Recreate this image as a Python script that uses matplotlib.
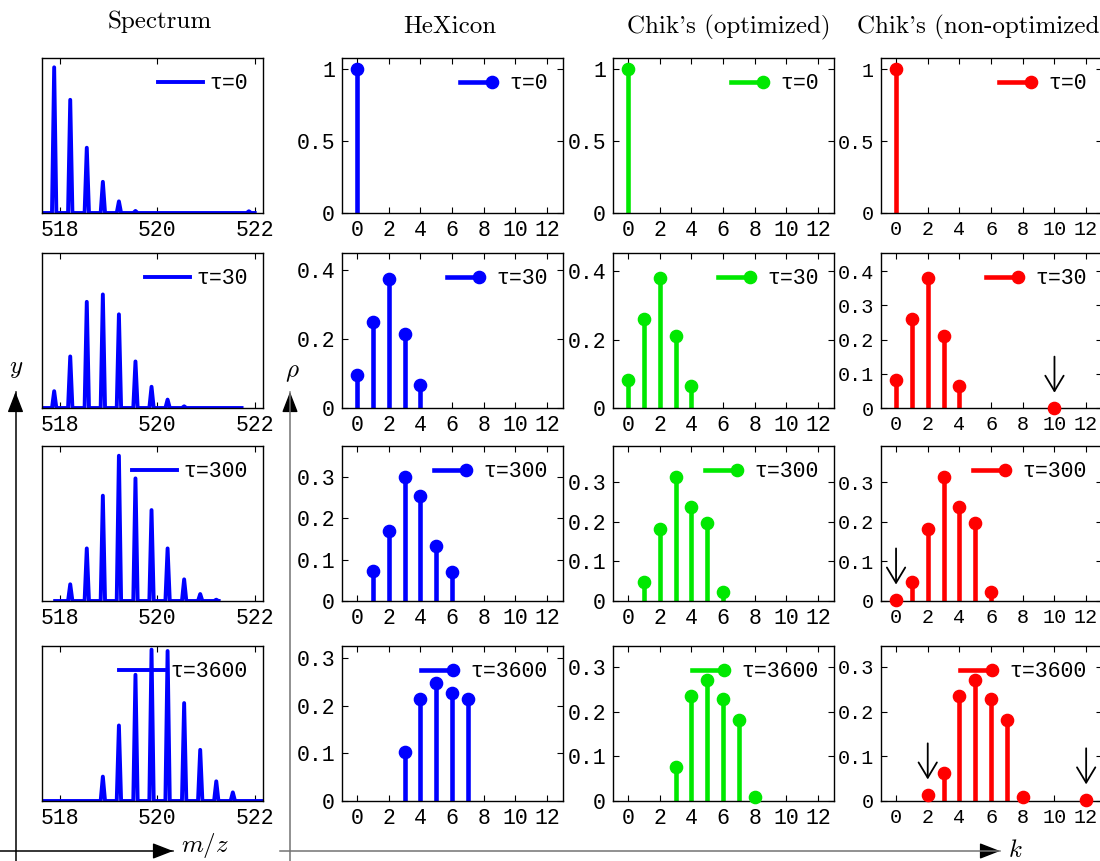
import numpy as np
import matplotlib.pyplot as plt
from matplotlib.lines import Line2D
from matplotlib.patches import FancyArrowPatch
from matplotlib.legend_handler import HandlerLine2D

plt.rcParams['mathtext.fontset'] = 'cm'
plt.rcParams['font.family'] = ['Liberation Mono', 'DejaVu Sans Mono']

taus = [0, 30, 300, 3600]

# isotope peaks of the measured spectra (m/z, relative height)
spec_mz = [
    [517.88, 518.21, 518.55, 518.88, 519.21, 519.55, 521.88],
    [517.88, 518.21, 518.55, 518.88, 519.21, 519.55, 519.88, 520.21, 520.55],
    [518.21, 518.55, 518.88, 519.21, 519.55, 519.88, 520.21, 520.55, 520.88, 521.21],
    [518.88, 519.21, 519.55, 519.88, 520.21, 520.55, 520.88, 521.21, 521.55],
]
spec_h = [
    [1.0, 0.777, 0.448, 0.214, 0.08, 0.014, 0.012],
    [0.148, 0.454, 0.935, 1.0, 0.825, 0.41, 0.187, 0.074, 0.015],
    [0.115, 0.362, 0.725, 1.0, 0.844, 0.626, 0.362, 0.149, 0.048, 0.009],
    [0.161, 0.499, 0.834, 1.0, 0.991, 0.647, 0.338, 0.130, 0.057],
]
spec_span = [(517.63, 522.0), (517.63, 521.73), (517.9, 521.26), (517.63, 522.17)]
spec_top = [1.064, 1.365, 1.067, 1.024]

# deuterium distributions rho(k)
hex_k = [[0], [0, 1, 2, 3, 4], [1, 2, 3, 4, 5, 6], [3, 4, 5, 6, 7]]
hex_rho = [[1.0],
           [0.096, 0.251, 0.374, 0.215, 0.068],
           [0.072, 0.169, 0.300, 0.253, 0.134, 0.071],
           [0.102, 0.213, 0.247, 0.227, 0.213]]
opt_k = [[0], [0, 1, 2, 3, 4], [1, 2, 3, 4, 5, 6], [3, 4, 5, 6, 7, 8]]
opt_rho = [[1.0],
           [0.081, 0.261, 0.380, 0.211, 0.064],
           [0.049, 0.182, 0.314, 0.237, 0.197, 0.023],
           [0.076, 0.234, 0.270, 0.228, 0.182, 0.010]]
non_k = [[0], [0, 1, 2, 3, 4, 10], [0, 1, 2, 3, 4, 5, 6], [2, 3, 4, 5, 6, 7, 8, 12]]
non_rho = [[1.0],
           [0.081, 0.261, 0.380, 0.211, 0.064, 0.0],
           [0.003, 0.049, 0.182, 0.314, 0.237, 0.197, 0.023],
           [0.014, 0.063, 0.235, 0.272, 0.228, 0.182, 0.010, 0.003]]
non_flag = [[], [10], [0], [2, 12]]

hex_top = [1.08, 0.45, 0.375, 0.325]
chik_top = [1.08, 0.453, 0.391, 0.347]
hex_yt = [[0, 0.5, 1], [0, 0.2, 0.4], [0, 0.1, 0.2, 0.3], [0, 0.1, 0.2, 0.3]]
opt_yt = [[0, 0.5, 1], [0, 0.2, 0.4], [0, 0.1, 0.2, 0.3], [0, 0.1, 0.2, 0.3]]
non_yt = [[0, 0.5, 1], [0, 0.1, 0.2, 0.3, 0.4], [0, 0.1, 0.2, 0.3], [0, 0.1, 0.2, 0.3]]

titles = ["Spectrum", "HeXicon", "Chik's (optimized)", "Chik's (non-optimized)"]
blue, green, red = '#0000ff', '#00e800', '#ff0000'

W, H = 1100, 861
col_left = [42, 342, 613, 881]
row_top = [58, 253, 446, 646]
aw, ah = 221, 155
fs = 15.5


class StemKey(HandlerLine2D):
    # line with the marker sitting at its right end
    def create_artists(self, legend, orig, xdescent, ydescent, width, height,
                       fontsize, trans):
        y = height / 2 - ydescent
        x0, x1 = -xdescent, -xdescent + width
        bar = Line2D([x0, x1], [y, y], color=orig.get_color(),
                     lw=orig.get_linewidth())
        dot = Line2D([x1], [y], color=orig.get_color(), marker='o',
                     ms=orig.get_markersize(), ls='none')
        bar.set_transform(trans)
        dot.set_transform(trans)
        return [bar, dot]


def trace(mz, h, span, w=0.045):
    xs, ys = [span[0]], [0]
    for c, v in zip(mz, h):
        xs += [c - w, c, c + w]
        ys += [0, v, 0]
    xs.append(span[1])
    ys.append(0)
    return xs, ys


def frame(ax):
    ax.tick_params(direction='in', top=True, right=True, length=4,
                   labelsize=fs, pad=5)
    for s in ax.spines.values():
        s.set_linewidth(1.0)


def stems(ax, k, rho, color, tau, top, yt, fsz=fs):
    ml, sl, bl = ax.stem(k, rho, basefmt=' ')
    plt.setp(sl, color=color, linewidth=3.3)
    plt.setp(ml, color=color, markersize=8.8, clip_on=False, zorder=3)
    ax.set_xlim(-0.95, 13.0)
    ax.set_ylim(0, top)
    ax.set_xticks(range(0, 13, 2))
    ax.set_yticks(yt)
    ax.set_yticklabels(['%g' % v for v in yt])
    frame(ax)
    ax.tick_params(labelsize=fsz)
    key = Line2D([], [], color=color, lw=3.3, marker='o', ms=8.8)
    ax.legend([key], ['τ=%d' % tau], handler_map={key: StemKey()},
              loc='upper right', frameon=False, fontsize=fs,
              handlelength=1.5, handletextpad=0.8, borderaxespad=0.3)


fig = plt.figure(figsize=(W / 100, H / 100), dpi=100)


def new_ax(c, r):
    return fig.add_axes([col_left[c] / W, (H - row_top[r] - ah) / H, aw / W, ah / H])


for r in range(4):
    ax = new_ax(0, r)
    xs, ys = trace(spec_mz[r], spec_h[r], spec_span[r])
    ax.plot(xs, ys, color=blue, lw=2.8, label='τ=%d' % taus[r])
    ax.set_xlim(517.63, 522.17)
    ax.set_ylim(0, spec_top[r])
    ax.set_xticks([518, 520, 522])
    ax.set_yticks([])
    frame(ax)
    ax.legend(loc='upper right', frameon=False, fontsize=fs,
              handlelength=2.1, handletextpad=0.3, borderaxespad=0.3)

    stems(new_ax(1, r), hex_k[r], hex_rho[r], blue, taus[r], hex_top[r], hex_yt[r])
    stems(new_ax(2, r), opt_k[r], opt_rho[r], green, taus[r], chik_top[r], opt_yt[r])
    ax4 = new_ax(3, r)
    stems(ax4, non_k[r], non_rho[r], red, taus[r], chik_top[r], non_yt[r], fsz=14.5)
    for kk in non_flag[r]:
        v = non_rho[r][non_k[r].index(kk)]
        ax4.annotate('', xy=(kk, v), xytext=(0, 37), textcoords='offset points',
                     arrowprops=dict(arrowstyle='->,head_length=0.5,head_width=0.3',
                                     color='k', lw=1.3,
                                     shrinkA=0, shrinkB=11, mutation_scale=22))

# column headings
title_x = [160, 450, 729, 983]
title_y = [22, 27, 27, 27]
for t, x, y in zip(titles, title_x, title_y):
    fig.text(x / W, 1 - y / H, t, family='cmr10', fontsize=18,
             ha='center', va='center')


def axis_arrow(p0, p1, line_color):
    fig.add_artist(Line2D([p0[0] / W, p1[0] / W], [1 - p0[1] / H, 1 - p1[1] / H],
                          transform=fig.transFigure, color=line_color, lw=1.1))
    dx = (p1[0] - p0[0])
    dy = (p1[1] - p0[1])
    n = np.hypot(dx, dy)
    q = (p1[0] - 14 * dx / n, p1[1] - 14 * dy / n)
    fig.add_artist(FancyArrowPatch((q[0] / W, 1 - q[1] / H), (p1[0] / W, 1 - p1[1] / H),
                                   transform=fig.transFigure,
                                   arrowstyle='-|>,head_length=0.9,head_width=0.35',
                                   mutation_scale=14, color='k', lw=1.0,
                                   shrinkA=0, shrinkB=0))


axis_arrow((15.5, 861), (15.5, 392), 'k')
axis_arrow((0, 851), (173, 851), 'k')
axis_arrow((290, 861), (290, 392), '0.45')
axis_arrow((280, 851), (1000, 851), '0.45')

fig.text(16 / W, 1 - 368 / H, r'$y$', fontsize=18, ha='center', va='center')
fig.text(205 / W, 1 - 845 / H, r'$m/z$', fontsize=18, ha='center', va='center')
fig.text(292 / W, 1 - 372 / H, r'$\rho$', fontsize=18, ha='center', va='center')
fig.text(1015 / W, 1 - 850 / H, r'$k$', fontsize=18, ha='center', va='center')

fig.savefig('out.png', dpi=100)
